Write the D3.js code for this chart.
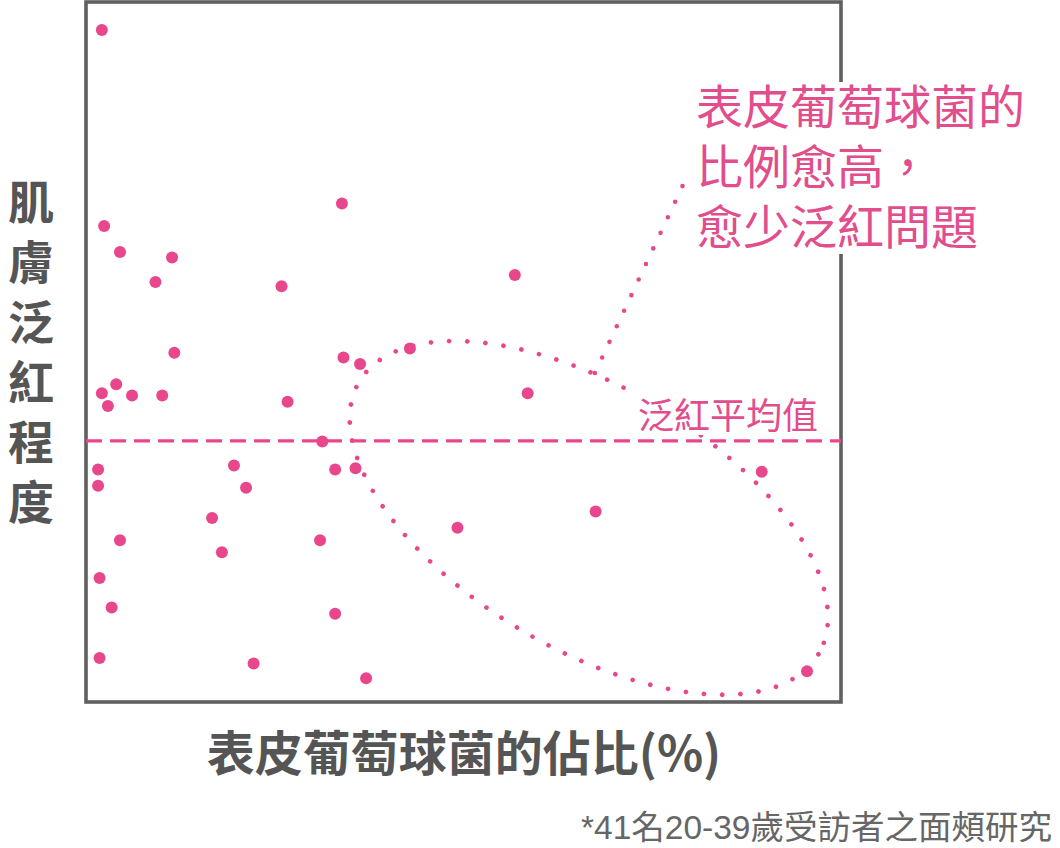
<!DOCTYPE html>
<html>
<head>
<meta charset="utf-8">
<script src="https://cdn.jsdelivr.net/npm/d3@7"></script>
<style>
  html, body { margin: 0; padding: 0; background: #fff; }
  svg { display: block; }
  text { font-family: "Noto Sans CJK TC", "Noto Sans CJK SC", sans-serif; }
</style>
</head>
<body>
<svg id="chart" width="1060" height="848"></svg>
<script>
// ---- Data (values in % of axis range) ----
const bacteriaShare = [2.1, 2.4, 4.5, 9.2, 11.4, 33.9, 25.9, 11.7, 56.8, 2.1,
                       4.0, 2.9, 6.1, 10.1, 26.7, 34.1, 36.3, 42.9, 58.5, 31.3,
                       1.6, 1.6, 19.6, 21.2, 33.0, 35.7, 89.5, 16.7, 49.2, 67.5,
                       4.5, 18.0, 31.0, 1.8, 3.4, 33.0, 1.8, 22.2, 37.1, 95.5];
const rednessLevel  = [96.0, 68.0, 64.3, 60.0, 63.5, 71.2, 59.4, 49.9, 61.0, 44.1,
                       45.4, 42.3, 43.8, 43.8, 42.9, 49.2, 48.3, 50.5, 44.1, 37.2,
                       33.2, 30.9, 33.8, 30.6, 33.2, 33.4, 32.9, 26.3, 24.9, 27.2,
                       23.1, 21.4, 23.1, 17.7, 13.5, 12.6, 6.3, 5.5, 3.4, 4.4];
const meanRedness = 37.3;

const xTitle = "表皮葡萄球菌的佔比(%)";
const yTitleChars = ["肌", "膚", "泛", "紅", "程", "度"];
const meanLabel = "泛紅平均值";
const noteLines = ["表皮葡萄球菌的", "比例愈高，", "愈少泛紅問題"];
const footnote = "*41名20-39歲受訪者之面頰研究";

// annotation geometry in data units
const ellipseCenter = [66.6, 26.3];
const leaderStart = [67.4, 47.0];
const leaderEnd = [79.7, 75.3];

// ---- Style ----
const PINK = "#E8488B";
const PINK_TEXT = "#E24D8C";
const GRAY = "#555555";

const svg = d3.select("#chart");
const x = d3.scaleLinear().domain([0, 100]).range([86, 841]);
const y = d3.scaleLinear().domain([0, 100]).range([702, 2]);

const points = bacteriaShare.map((v, i) => ({ x: v, y: rednessLevel[i] }));

// Ellipse (dotted)
const [ecx, ecy] = ellipseCenter;
svg.append("ellipse")
  .attr("cx", 0).attr("cy", 0)
  .attr("rx", 267).attr("ry", 131)
  .attr("transform", `translate(${x(ecx)},${y(ecy)}) rotate(30.7)`)
  .attr("fill", "none")
  .attr("stroke", PINK)
  .attr("stroke-width", 4.6)
  .attr("stroke-linecap", "round")
  .attr("stroke-dasharray", "0 18.2");

// Leader line (dotted)
svg.append("line")
  .attr("x1", x(leaderStart[0])).attr("y1", y(leaderStart[1]))
  .attr("x2", x(leaderEnd[0])).attr("y2", y(leaderEnd[1]))
  .attr("stroke", PINK)
  .attr("stroke-width", 4.6)
  .attr("stroke-linecap", "round")
  .attr("stroke-dasharray", "0 17.2");

// Frame
svg.append("rect")
  .attr("x", x(0)).attr("y", y(100))
  .attr("width", x(100) - x(0)).attr("height", y(0) - y(100))
  .attr("fill", "none")
  .attr("stroke", "#606060")
  .attr("stroke-width", 3.6);

// Mean label with white background
const meanG = svg.append("g");
const meanBg = meanG.append("rect").attr("fill", "#fff");
const meanText = meanG.append("text")
  .attr("x", 638).attr("y", 429)
  .attr("font-size", 36)
  .attr("fill", PINK_TEXT)
  .text(meanLabel);
{
  const b = meanText.node().getBBox();
  meanBg.attr("x", b.x - 4).attr("y", b.y + 2).attr("width", b.width + 8).attr("height", b.height - 6);
}

// Mean dashed line
svg.append("line")
  .attr("x1", x(0)).attr("x2", x(100))
  .attr("y1", y(meanRedness)).attr("y2", y(meanRedness))
  .attr("stroke", PINK)
  .attr("stroke-width", 3.4)
  .attr("stroke-dasharray", "16 8");

// Points
svg.append("g").selectAll("circle")
  .data(points)
  .join("circle")
  .attr("cx", d => x(d.x))
  .attr("cy", d => y(d.y))
  .attr("r", 6)
  .attr("fill", PINK);

// Annotation text with white background
const noteG = svg.append("g");
noteG.append("rect")
  .attr("x", 690).attr("y", 82)
  .attr("width", 345).attr("height", 172)
  .attr("fill", "#fff");
noteG.selectAll("text")
  .data(noteLines)
  .join("text")
  .attr("x", 696)
  .attr("y", (d, i) => 124 + i * 60)
  .attr("font-size", 47)
  .attr("fill", PINK_TEXT)
  .text(d => d);

// Y title (vertical, one char per line)
svg.append("g").selectAll("text")
  .data(yTitleChars)
  .join("text")
  .attr("x", 31)
  .attr("y", (d, i) => 219 + i * 60)
  .attr("font-size", 46)
  .attr("font-weight", "bold")
  .attr("fill", GRAY)
  .attr("text-anchor", "middle")
  .text(d => d);

// X title
svg.append("text")
  .attr("x", 464).attr("y", 771)
  .attr("text-anchor", "middle")
  .attr("font-size", 48)
  .attr("font-weight", "bold")
  .attr("fill", GRAY)
  .text(xTitle);

// Footnote
svg.append("text")
  .attr("x", 1052).attr("y", 839)
  .attr("text-anchor", "end")
  .attr("font-size", 33.5)
  .attr("fill", "#666")
  .style("font-family", '"Liberation Sans", "Noto Sans CJK TC", sans-serif')
  .text(footnote);
</script>
</body>
</html>
